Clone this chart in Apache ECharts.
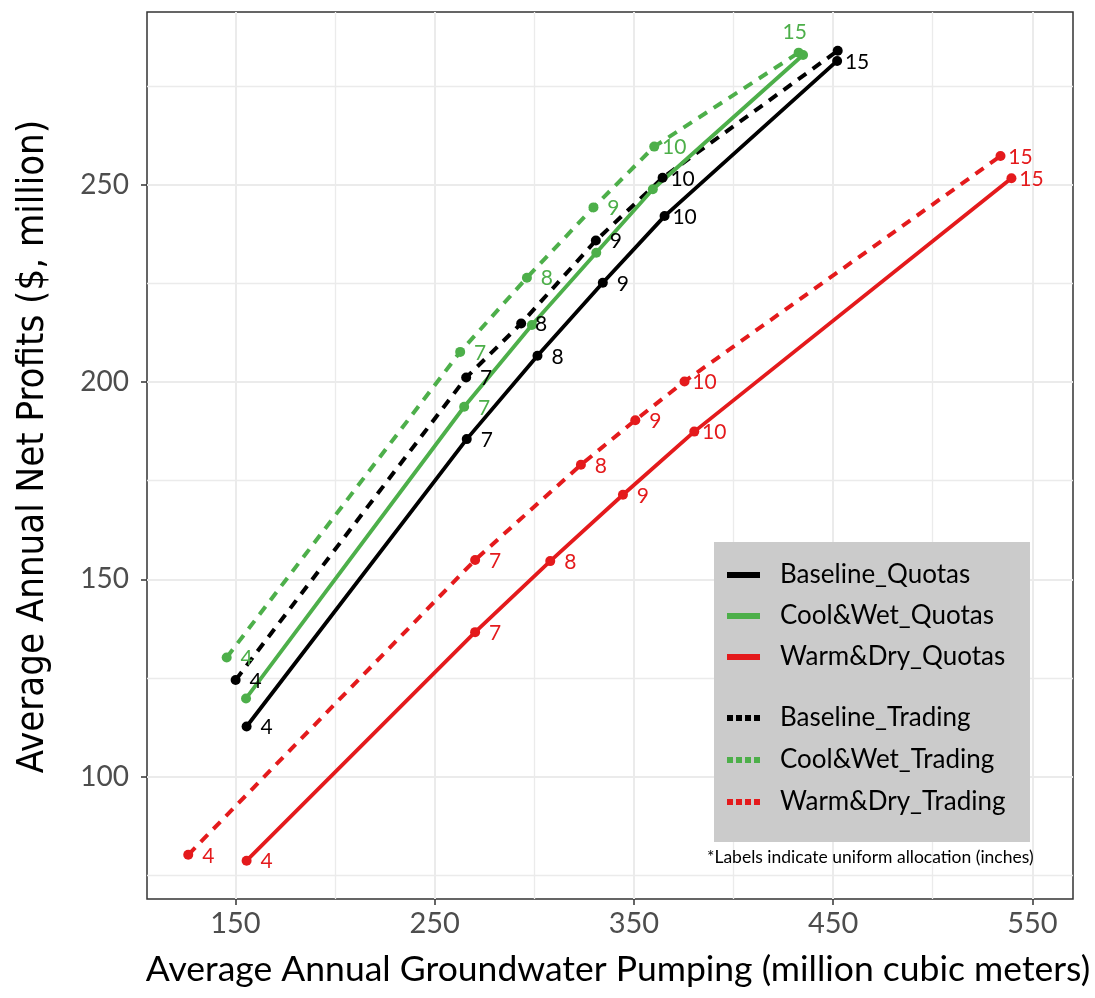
<!DOCTYPE html>
<html>
<head>
<meta charset="utf-8">
<script src="https://cdn.jsdelivr.net/npm/echarts@6/dist/echarts.min.js"></script>
<style>
  html, body { margin: 0; padding: 0; background: #ffffff; }
  #chart { width: 1095px; height: 998px; }
</style>
</head>
<body>
<div id="chart"></div>
<script>
// Uniform allocation (inches) for each scenario point
const allocations = ['4', '7', '8', '9', '10', '15'];

// Pumping (million m3) and net profits ($ million) per scenario
const baselineQuotasX = [155.6, 266.1, 301.6, 334.4, 365.4, 452.0];
const baselineQuotasY = [112.7, 185.5, 206.6, 225.1, 242.0, 281.3];
const baselineTradingX = [150.1, 265.8, 293.4, 330.9, 364.4, 452.3];
const baselineTradingY = [124.5, 201.1, 214.8, 235.8, 251.7, 283.9];
const coolWetQuotasX = [155.3, 264.8, 298.8, 331.1, 359.5, 434.9];
const coolWetQuotasY = [119.8, 193.7, 214.4, 232.7, 248.8, 282.8];
const coolWetTradingX = [145.6, 262.8, 296.3, 329.7, 360.2, 432.7];
const coolWetTradingY = [130.2, 207.6, 226.4, 244.2, 259.6, 283.4];
const warmDryQuotasX = [155.6, 270.3, 308.0, 344.5, 380.3, 539.5];
const warmDryQuotasY = [78.7, 136.6, 154.6, 171.4, 187.4, 251.6];
const warmDryTradingX = [126.3, 270.3, 323.4, 350.7, 375.4, 534.0];
const warmDryTradingY = [80.2, 154.9, 179.0, 190.3, 200.1, 257.2];

// Which points carry an allocation label (1 = labelled, 2 = labelled above)
const baselineQuotasShown = [1, 1, 1, 1, 1, 1];
const baselineTradingShown = [1, 1, 1, 1, 1, 0];
const coolWetQuotasShown = [0, 1, 0, 0, 0, 0];
const coolWetTradingShown = [1, 1, 1, 1, 1, 2];
const warmDryQuotasShown = [1, 1, 1, 1, 1, 1];
const warmDryTradingShown = [1, 1, 1, 1, 1, 1];

// Axis ticks
const xMajorTicks = [150, 250, 350, 450, 550];
const xMinorTicks = [200, 300, 400, 500];
const yMajorTicks = [100, 150, 200, 250];
const yMinorTicks = [75, 125, 175, 225, 275];

const BLACK = '#000000';
const GREEN = '#4daf4a';
const RED = '#e41a1c';
const FONT = 'Lato, "Open Sans", sans-serif';

function makeSeries(name, xs, ys, shown, color, dashed) {
  const data = xs.map(function (x, i) {
    const item = { value: [x, ys[i]] };
    if (shown[i] === 0) {
      item.label = { show: false };
    } else if (shown[i] === 2) {
      item.label = { position: [1, -15] };
    }
    return item;
  });
  return {
    name: name,
    type: 'line',
    data: data,
    symbol: 'circle',
    symbolSize: 10,
    showAllSymbol: true,
    itemStyle: { color: color },
    lineStyle: { color: color, width: dashed ? 4 : 3.8, type: dashed ? [10, 8] : 'solid', cap: 'butt' },
    label: {
      show: true,
      position: [25, 6],
      align: 'center',
      verticalAlign: 'middle',
      color: color,
      fontFamily: FONT,
      fontSize: 21,
      formatter: function (p) { return allocations[p.dataIndex]; }
    },
    emphasis: { disabled: true },
    animation: false
  };
}

const solidIcon = 'rect';
const dottedIcon = 'path://M0,0h6v6h-6z M9,0h6v6h-6z M18,0h6v6h-6z M27,0h6v6h-6z';

const legendText = { color: '#000000', fontFamily: FONT, fontSize: 26, lineHeight: 30, padding: [0, 0, 0, 15] };

const chart = echarts.init(document.getElementById('chart'), null, { renderer: 'canvas' });

chart.setOption({
  backgroundColor: '#ffffff',
  animation: false,
  grid: {
    left: 147, top: 12, right: 22, bottom: 99,
    show: true, borderColor: '#333333', borderWidth: 1.5, backgroundColor: 'transparent'
  },
  xAxis: [
    {
      type: 'value', min: 105.6, max: 570.4, position: 'bottom',
      name: 'Average Annual Groundwater Pumping (million cubic meters)',
      nameLocation: 'middle', nameGap: 53,
      nameTextStyle: { color: '#000000', fontFamily: FONT, fontSize: 35.5, padding: [0, 0, 0, 16] },
      axisLine: { show: false },
      axisTick: { show: true, length: 6, lineStyle: { color: '#333333', width: 1.5 }, customValues: xMajorTicks },
      axisLabel: { customValues: xMajorTicks, color: '#4d4d4d', fontFamily: FONT, fontSize: 29, margin: 10 },
      splitLine: { show: true, lineStyle: { color: '#ebebeb', width: 2 } }
    },
    {
      type: 'value', min: 105.6, max: 570.4, position: 'bottom',
      axisLine: { show: false },
      axisTick: { show: false, customValues: xMinorTicks },
      axisLabel: { show: false, customValues: xMinorTicks },
      splitLine: { show: true, lineStyle: { color: '#ebebeb', width: 1.3 } }
    }
  ],
  yAxis: [
    {
      type: 'value', min: 69, max: 293.7, position: 'left',
      name: 'Average Annual Net Profits ($, million)',
      nameLocation: 'middle', nameGap: 95, nameRotate: 90,
      nameTextStyle: { color: '#000000', fontFamily: '"Liberation Sans Narrow", "DejaVu Sans Condensed", sans-serif', fontSize: 38, padding: [0, 0, 0, 18] },
      axisLine: { show: false },
      axisTick: { show: true, length: 6, lineStyle: { color: '#333333', width: 1.5 }, customValues: yMajorTicks },
      axisLabel: { customValues: yMajorTicks, color: '#4d4d4d', fontFamily: FONT, fontSize: 28, margin: 18 },
      splitLine: { show: true, lineStyle: { color: '#ebebeb', width: 2 } }
    },
    {
      type: 'value', min: 69, max: 293.7, position: 'left',
      axisLine: { show: false },
      axisTick: { show: false, customValues: yMinorTicks },
      axisLabel: { show: false, customValues: yMinorTicks },
      splitLine: { show: true, lineStyle: { color: '#ebebeb', width: 1.3 } }
    }
  ],
  legend: [
    {
      orient: 'vertical', left: 727, top: 560, padding: 0, itemGap: 11,
      itemWidth: 33, itemHeight: 6, selectedMode: false, z: 5,
      textStyle: legendText,
      data: [
        { name: 'Baseline_Quotas', icon: solidIcon },
        { name: 'Cool&Wet_Quotas', icon: solidIcon },
        { name: 'Warm&Dry_Quotas', icon: solidIcon }
      ]
    },
    {
      orient: 'vertical', left: 727, top: 703, padding: 0, itemGap: 12,
      itemWidth: 33, itemHeight: 6, selectedMode: false, z: 5,
      textStyle: legendText,
      data: [
        { name: 'Baseline_Trading', icon: dottedIcon },
        { name: 'Cool&Wet_Trading', icon: dottedIcon },
        { name: 'Warm&Dry_Trading', icon: dottedIcon }
      ]
    }
  ],
  graphic: [
    {
      type: 'rect', z: 3, silent: true,
      shape: { x: 714, y: 542, width: 316, height: 300 },
      style: { fill: '#cbcbcb' }
    },
    {
      type: 'text', z: 10, silent: true, left: 707, top: 848,
      style: { text: '*Labels indicate uniform allocation (inches)', fill: '#000000', font: '17.5px Lato, "Open Sans", sans-serif' }
    }
  ],
  series: [
    makeSeries('Warm&Dry_Trading', warmDryTradingX, warmDryTradingY, warmDryTradingShown, RED, true),
    makeSeries('Cool&Wet_Trading', coolWetTradingX, coolWetTradingY, coolWetTradingShown, GREEN, true),
    makeSeries('Baseline_Trading', baselineTradingX, baselineTradingY, baselineTradingShown, BLACK, true),
    makeSeries('Warm&Dry_Quotas', warmDryQuotasX, warmDryQuotasY, warmDryQuotasShown, RED, false),
    makeSeries('Cool&Wet_Quotas', coolWetQuotasX, coolWetQuotasY, coolWetQuotasShown, GREEN, false),
    makeSeries('Baseline_Quotas', baselineQuotasX, baselineQuotasY, baselineQuotasShown, BLACK, false)
  ]
});
</script>
</body>
</html>
